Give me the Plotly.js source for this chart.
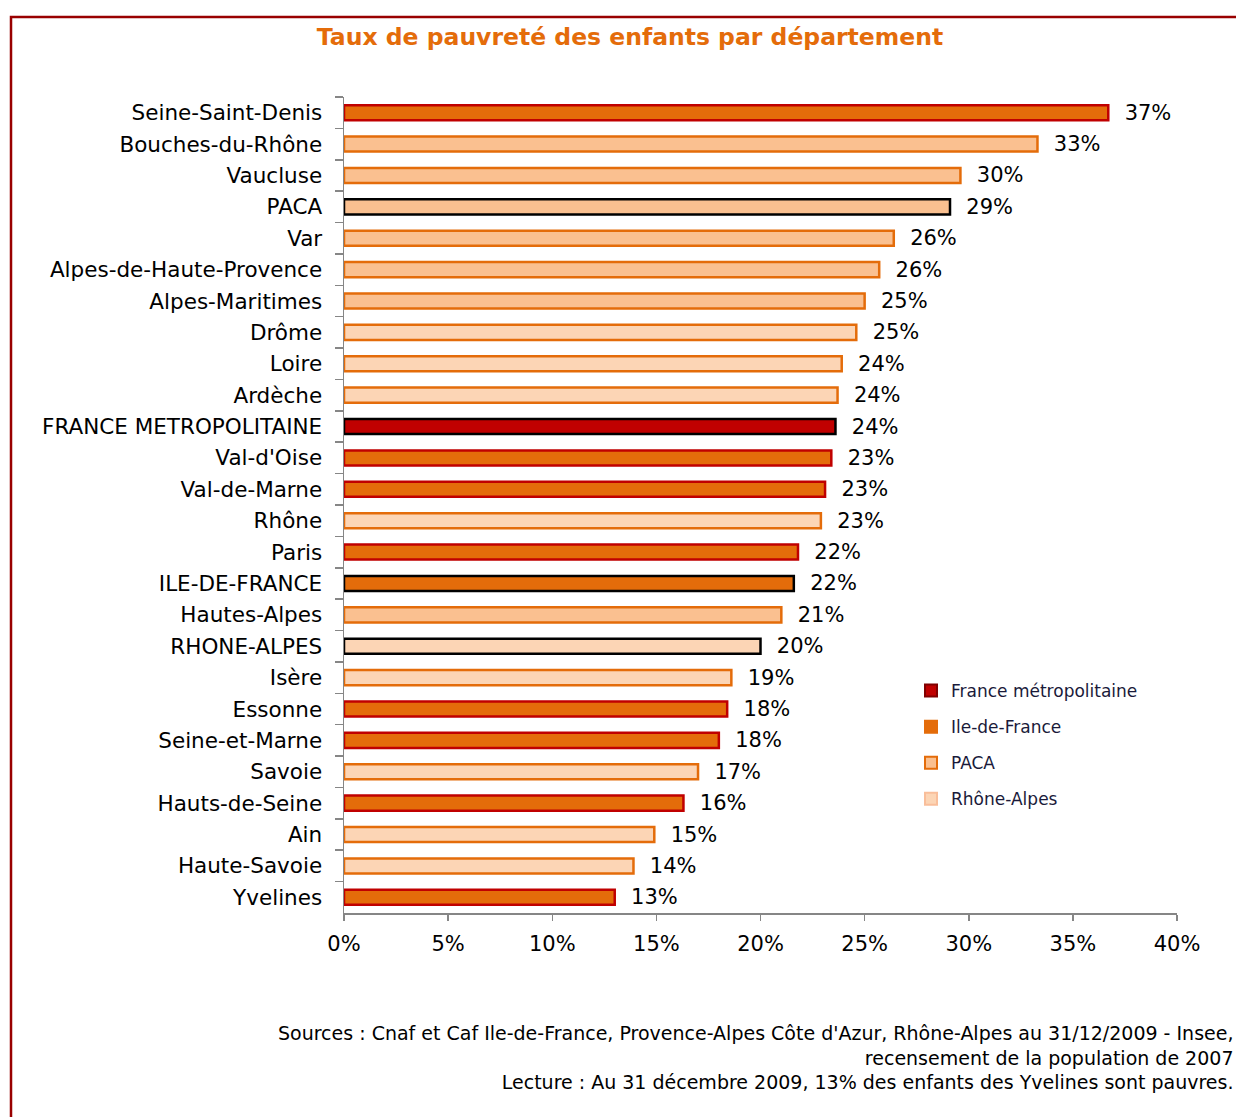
<!DOCTYPE html>
<html>
<head>
<meta charset="utf-8">
<script src="https://cdn.plot.ly/plotly-3.0.1.min.js"></script>
<style>
html,body{margin:0;padding:0;background:#fff;}
#chart{width:1236px;height:1117px;}
</style>
</head>
<body>
<div id="chart"></div>
<script>
const categories = ["Seine-Saint-Denis","Bouches-du-Rhône","Vaucluse","PACA","Var","Alpes-de-Haute-Provence","Alpes-Maritimes","Drôme","Loire","Ardèche","FRANCE METROPOLITAINE","Val-d'Oise","Val-de-Marne","Rhône","Paris","ILE-DE-FRANCE","Hautes-Alpes","RHONE-ALPES","Isère","Essonne","Seine-et-Marne","Savoie","Hauts-de-Seine","Ain","Haute-Savoie","Yvelines"];
const values = [0.367,0.333,0.296,0.291,0.264,0.257,0.250,0.246,0.239,0.237,0.236,0.234,0.231,0.229,0.218,0.216,0.210,0.200,0.186,0.184,0.180,0.170,0.163,0.149,0.139,0.130];
const groups = ["Ile-de-France","PACA","PACA","PACA","PACA","PACA","PACA","Rhône-Alpes","Rhône-Alpes","Rhône-Alpes","France métropolitaine","Ile-de-France","Ile-de-France","Rhône-Alpes","Ile-de-France","Ile-de-France","PACA","Rhône-Alpes","Rhône-Alpes","Ile-de-France","Ile-de-France","Rhône-Alpes","Ile-de-France","Rhône-Alpes","Rhône-Alpes","Ile-de-France"];
const isRegion = [false,false,false,true,false,false,false,false,false,false,true,false,false,false,false,true,false,true,false,false,false,false,false,false,false,false];
const legendOrder = ["France métropolitaine","Ile-de-France","PACA","Rhône-Alpes"];
const xTicks = [0,0.05,0.10,0.15,0.20,0.25,0.30,0.35,0.40];

const styles = {
  "France métropolitaine": {fill:"#C00000", line:"#C00000", legendLine:"#800000"},
  "Ile-de-France": {fill:"#E46C0A", line:"#C00000", legendLine:"#E46C0A"},
  "PACA": {fill:"#FAC090", line:"#E46C0A", legendLine:"#E46C0A"},
  "Rhône-Alpes": {fill:"#FCD5B5", line:"#E46C0A", legendLine:"#F9BE9A"}
};

const barTraces = legendOrder.map(g => {
  const idx = categories.map((c,i)=>i).filter(i => groups[i] === g);
  return {
    type: "bar",
    orientation: "h",
    name: g,
    showlegend: false,
    y: idx.map(i => categories[i]),
    x: idx.map(i => values[i]),
    width: 0.48,
    marker: {
      color: styles[g].fill,
      line: {color: idx.map(i => isRegion[i] ? "#000000" : styles[g].line), width: 2.5}
    },
    texttemplate: "\u00a0\u00a0%{x:.0%}",
    textposition: "outside",
    constraintext: "none",
    cliponaxis: false,
    textfont: {family: "DejaVu Sans", size: 21, color: "#000"},
    hoverinfo: "skip"
  };
});

const legendTraces = legendOrder.map((g, i) => ({
  type: "bar",
  orientation: "h",
  name: g,
  legendgroup: "g" + i,
  showlegend: true,
  x: [null],
  y: [categories[0]],
  marker: {color: styles[g].fill, line: {color: styles[g].legendLine, width: 2}},
  hoverinfo: "skip"
}));

const L = 344, R = 1177, T = 97, B = 913;
const W = 1236, H = 1117;
const px = v => (v - L) / (R - L);
const py = v => (B - v) / (B - T);

const layout = {
  width: W, height: H,
  margin: {l: L, r: W - R, t: T, b: H - B, pad: 0},
  paper_bgcolor: "#fff", plot_bgcolor: "#fff",
  barmode: "overlay",
  showlegend: true,
  font: {family: "DejaVu Sans", color: "#000"},
  title: {
    text: "Taux de pauvreté des enfants par département",
    font: {family: "DejaVu Sans", size: 23.5, color: "#E46C0A", weight: "bold"},
    xref: "container", yref: "container",
    x: 630 / W, y: 1 - 37 / H, xanchor: "center", yanchor: "middle"
  },
  xaxis: {
    range: [0, 0.40],
    tickvals: xTicks,
    tickformat: ".0%",
    showgrid: false, zeroline: false,
    showline: true, linecolor: "#868686", linewidth: 1.5,
    ticks: "outside", ticklen: 6, tickcolor: "#868686", tickwidth: 1.5,
    ticklabelstandoff: 5,
    tickfont: {family: "DejaVu Sans", size: 21, color: "#000"},
    fixedrange: true
  },
  yaxis: {
    type: "category",
    categoryorder: "array",
    categoryarray: categories,
    autorange: "reversed",
    showgrid: false, zeroline: false,
    showline: true, linecolor: "#868686", linewidth: 1.5,
    ticks: "outside", ticklen: 8, tickcolor: "#868686", tickwidth: 1.5,
    tickson: "boundaries",
    ticklabelstandoff: 16,
    tickfont: {family: "DejaVu Sans", size: 21.5, color: "#000"},
    fixedrange: true
  },
  legend: {
    x: px(911), y: py(673), xanchor: "left", yanchor: "top",
    bgcolor: "rgba(0,0,0,0)",
    font: {family: "DejaVu Sans", size: 17, color: "#1a1a3a"},
    traceorder: "grouped",
    tracegroupgap: 11,
    itemwidth: 30
  },
  shapes: [{
    type: "rect", xref: "paper", yref: "paper",
    x0: px(11), x1: px(1300), y0: py(1200), y1: py(17),
    line: {color: "#990000", width: 2.5}, fillcolor: "rgba(0,0,0,0)", layer: "below"
  }],
  annotations: [{
    xref: "paper", yref: "paper",
    x: px(1235), y: py(1057), xanchor: "right", yanchor: "middle", align: "right",
    showarrow: false,
    text: "Sources : Cnaf et Caf Ile-de-France, Provence-Alpes Côte d'Azur, Rhône-Alpes au 31/12/2009 - Insee,<br>recensement de la population de 2007<br>Lecture : Au 31 décembre 2009, 13% des enfants des Yvelines sont pauvres.",
    font: {family: "DejaVu Sans", size: 19, color: "#000"}
  }]
};

Plotly.newPlot("chart", barTraces.concat(legendTraces), layout, {displayModeBar: false, staticPlot: true});
</script>
</body>
</html>
